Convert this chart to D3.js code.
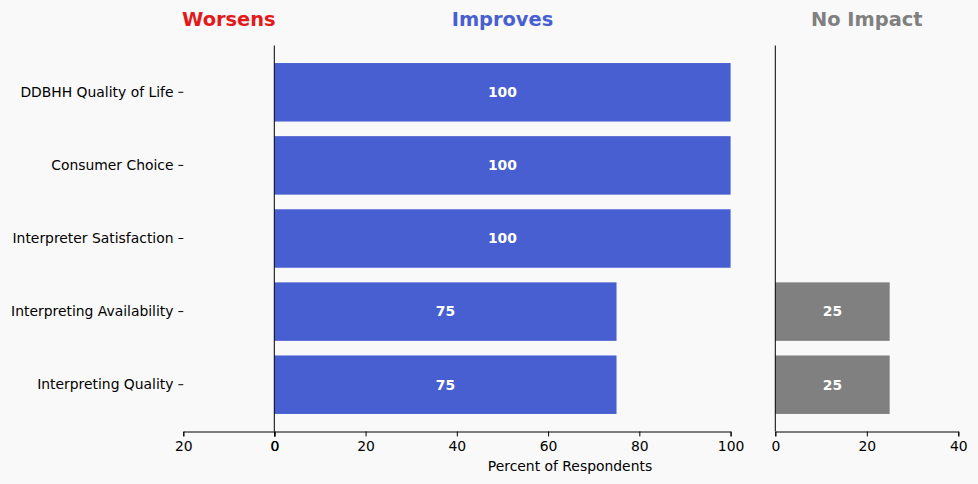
<!DOCTYPE html>
<html><head><meta charset="utf-8">
<script src="https://cdn.jsdelivr.net/npm/d3@7"></script>
<style>
html,body{margin:0;padding:0;background:#f9f9f9;}
svg{display:block;font-family:"DejaVu Sans",sans-serif;}
</style></head>
<body><svg id="c" width="978" height="484"></svg>
<script>
const categories = ["DDBHH Quality of Life","Consumer Choice","Interpreter Satisfaction","Interpreting Availability","Interpreting Quality"];
const worsens = [0,0,0,0,0];
const improves = [100,100,100,75,75];
const noImpact = [0,0,0,25,25];
const worsensTicks = [20,0];
const improvesTicks = [0,20,40,60,80,100];
const noImpactTicks = [0,20,40];
const panelTitles = ["Worsens","Improves","No Impact"];
const xLabel = "Percent of Respondents";

(function(){
const svg = d3.select("#c");
const plotTop = 45.5, plotBottom = 431.5;
const y = d3.scaleBand().domain(categories).range([plotTop,plotBottom]).paddingInner(0.2).paddingOuter(0.24);

const xW = d3.scaleLinear().domain([20,0]).range([183.3,274.3]);
const xI = d3.scaleLinear().domain([0,100]).range([274.3,730.6]);
const xN = d3.scaleLinear().domain([0,40]).range([775.3,958.3]);

const blue = "#485fd2", gray = "#808080", red = "#e31a1c";
const tickFont = 13.9;

function bottomAxis(x, ticks){
  const ax = svg.append("g").attr("transform",`translate(0,${plotBottom})`)
    .call(d3.axisBottom(x).tickValues(ticks).tickSizeOuter(0).tickSize(4.9).tickPadding(4.9).tickFormat(d3.format("d")));
  ax.select(".domain").attr("stroke","#000").attr("stroke-width",1);
  ax.selectAll(".tick line").attr("stroke","#000").attr("stroke-width",1);
  ax.selectAll("text").attr("font-size",tickFont).attr("font-family","DejaVu Sans").attr("fill","#000");
  return ax;
}

function bars(x, vals, color){
  const g = svg.append("g");
  const data = categories.map((c,i)=>({c, v: vals[i]})).filter(d=>d.v>0);
  g.selectAll("rect").data(data).join("rect")
    .attr("x", d=>Math.min(x(0),x(d.v)))
    .attr("width", d=>Math.abs(x(d.v)-x(0)))
    .attr("y", d=>y(d.c)).attr("height", y.bandwidth())
    .attr("fill", color);
  g.selectAll("text").data(data).join("text")
    .attr("x", d=>(x(0)+x(d.v))/2)
    .attr("y", d=>y(d.c)+y.bandwidth()/2)
    .attr("dy","0.35em").attr("text-anchor","middle")
    .attr("fill","#fff").attr("font-weight","bold").attr("font-size",tickFont)
    .text(d=>d3.format("d")(d.v));
}
bars(xW, worsens, red);
bars(xI, improves, blue);
bars(xN, noImpact, gray);

svg.append("line").attr("x1",xI(0)).attr("x2",xI(0)).attr("y1",plotTop).attr("y2",plotBottom).attr("stroke","#000");
svg.append("line").attr("x1",xN(0)).attr("x2",xN(0)).attr("y1",plotTop).attr("y2",plotBottom).attr("stroke","#000");

bottomAxis(xW, worsensTicks);
bottomAxis(xI, improvesTicks);
bottomAxis(xN, noImpactTicks);

const ya = svg.append("g").attr("transform",`translate(${xW(20)},0)`)
  .call(d3.axisLeft(y).tickSize(4.9).tickPadding(4.9));
ya.select(".domain").remove();
ya.selectAll(".tick line").attr("stroke","#000");
ya.selectAll("text").attr("font-size",tickFont).attr("font-family","DejaVu Sans").attr("fill","#000");

svg.append("text").attr("x",570).attr("y",470.5).attr("text-anchor","middle")
  .attr("font-size",tickFont).attr("fill","#000").text(xLabel);

const titleX = [(xW(20)+xW(0))/2,(xI(0)+xI(100))/2,(xN(0)+xN(40))/2];
const titleC = [red, blue, gray];
svg.selectAll(".ptitle").data(panelTitles).join("text")
  .attr("class","ptitle")
  .attr("x",(d,i)=>titleX[i]).attr("y",26)
  .attr("text-anchor","middle").attr("font-weight","bold").attr("font-size",19.4)
  .attr("fill",(d,i)=>titleC[i]).text(d=>d);
})();
</script></body></html>
